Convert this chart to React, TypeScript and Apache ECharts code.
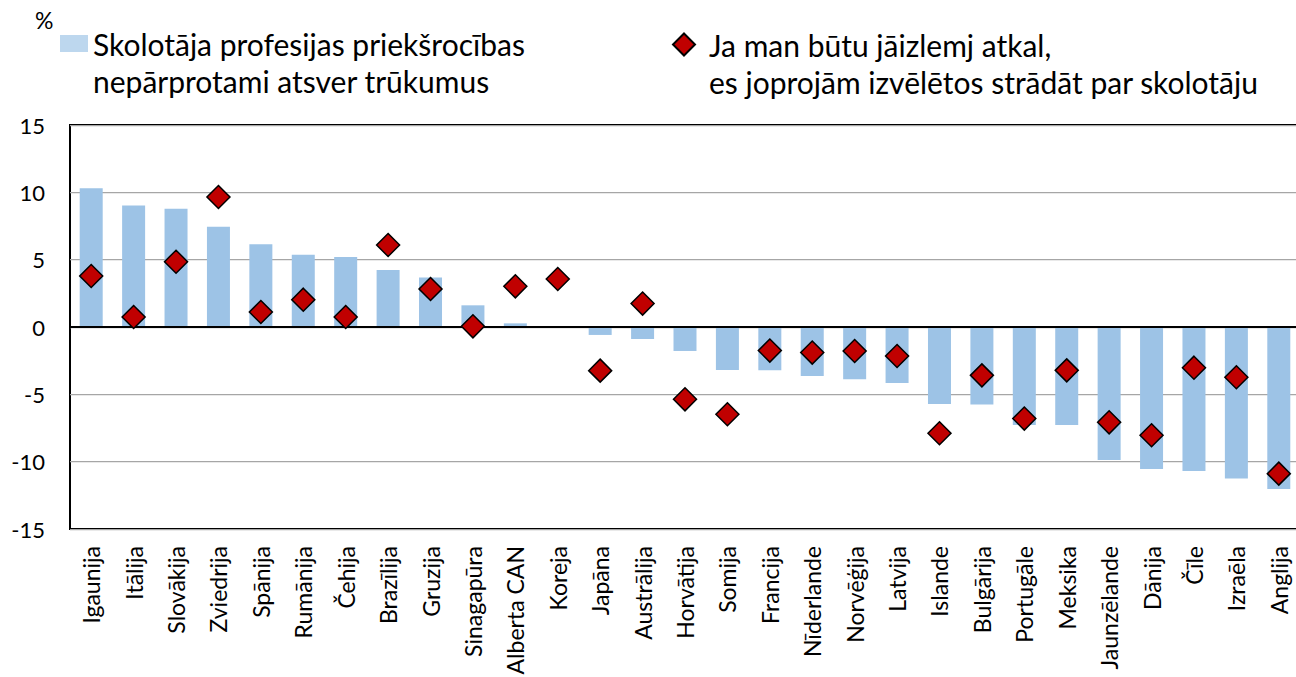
import React, { useEffect, useRef } from "react";
import * as echarts from "echarts";

const categories = [
  "Igaunija", "Itālija", "Slovākija", "Zviedrija", "Spānija", "Rumānija", "Čehija",
  "Brazīlija", "Gruzija", "Sinagapūra", "Alberta CAN", "Koreja", "Japāna", "Austrālija",
  "Horvātija", "Somija", "Francija", "Nīderlande", "Norvēģija", "Latvija", "Islande",
  "Bulgārija", "Portugāle", "Meksika", "Jaunzēlande", "Dānija", "Čīle", "Izraēla", "Anglija",
];

const advantageValues = [
  10.3, 9.03, 8.79, 7.45, 6.14, 5.37, 5.2, 4.23, 3.67, 1.61, 0.27, null, -0.59, -0.89,
  -1.78, -3.19, -3.21, -3.64, -3.88, -4.16, -5.72, -5.76, -7.28, -7.28, -9.87, -10.54,
  -10.69, -11.25, -12.03,
];

const chooseAgainValues = [
  3.79, 0.74, 4.85, 9.65, 1.11, 2.03, 0.74, 6.09, 2.82, 0.05, 3.02, 3.56, -3.24, 1.74,
  -5.37, -6.48, -1.75, -1.9, -1.78, -2.15, -7.89, -3.59, -6.8, -3.22, -7.08, -8.04,
  -3.02, -3.73, -10.89,
];

const barName = "Skolotāja profesijas priekšrocības\nnepārprotami atsver trūkumus";
const diamondName = "Ja man būtu jāizlemj atkal,\nes joprojām izvēlētos strādāt par skolotāju";

const FONT = "Lato, 'Noto Sans', sans-serif";

export default function App() {
  const ref = useRef<HTMLDivElement>(null);
  useEffect(() => {
    if (!ref.current) return;
    const chart = echarts.init(ref.current, null, { renderer: "svg", width: 1296, height: 677 });
    const legendText = {
      fontFamily: FONT,
      fontSize: 30,
      color: "#000",
      lineHeight: 37,
    };
    chart.setOption({
      animation: false,
      backgroundColor: "#fff",
      textStyle: { fontFamily: FONT },
      grid: {
        left: 70,
        width: 1230,
        top: 125,
        height: 404,
        containLabel: false,
        outerBoundsMode: "none",
        show: true,
        borderColor: "#000",
        borderWidth: 2,
        backgroundColor: "transparent",
      },
      graphic: [
        {
          type: "text",
          left: 35,
          top: 8,
          style: { text: "%", font: `23px ${FONT}`, fill: "#000" },
        },
      ],
      legend: [
        {
          left: 60,
          top: -12,
          padding: 0,
          itemWidth: 28,
          itemHeight: 17,
          icon: "rect",
          data: [{ name: barName, itemStyle: { color: "#BDD7EE" } }],
          formatter: (name: string) => " \n" + name,
          textStyle: legendText,
        },
        {
          left: 672,
          top: -11,
          padding: 0,
          itemWidth: 22,
          itemHeight: 22,
          itemGap: 0,
          icon: "diamond",
          data: [diamondName],
          formatter: (name: string) => " \n" + name,
          textStyle: { ...legendText, padding: [0, 0, 0, 9] },
        },
      ],
      xAxis: {
        type: "category",
        data: categories,
        axisLine: { show: false },
        axisTick: { show: false },
        splitLine: { show: false },
        axisLabel: {
          interval: 0,
          rotate: 90,
          margin: 17,
          fontSize: 23,
          color: "#000",
          fontFamily: FONT,
        },
      },
      yAxis: {
        type: "value",
        min: -15,
        max: 15,
        interval: 5,
        axisLine: { show: false },
        axisTick: { show: false },
        axisLabel: { fontSize: 22, color: "#000", margin: 25, fontFamily: FONT },
        splitLine: { show: true, lineStyle: { color: "#A6A6A6", width: 1.25 } },
      },
      series: [
        {
          name: barName,
          type: "bar",
          data: advantageValues,
          barWidth: 23,
          itemStyle: { color: "#9DC3E6" },
          markLine: {
            silent: true,
            symbol: "none",
            label: { show: false },
            lineStyle: { color: "#000", width: 2, type: "solid" },
            data: [{ yAxis: 0 }],
          },
        },
        {
          name: diamondName,
          type: "scatter",
          data: chooseAgainValues,
          symbol: "diamond",
          symbolSize: 23,
          itemStyle: { color: "#C00000", borderColor: "#000", borderWidth: 1.5, opacity: 1 },
          z: 5,
        },
      ],
    });
    return () => chart.dispose();
  }, []);
  return (
    <div
      ref={ref}
      style={{ position: "fixed", left: 0, top: 0, width: 1296, height: 677, overflow: "hidden" }}
    />
  );
}
